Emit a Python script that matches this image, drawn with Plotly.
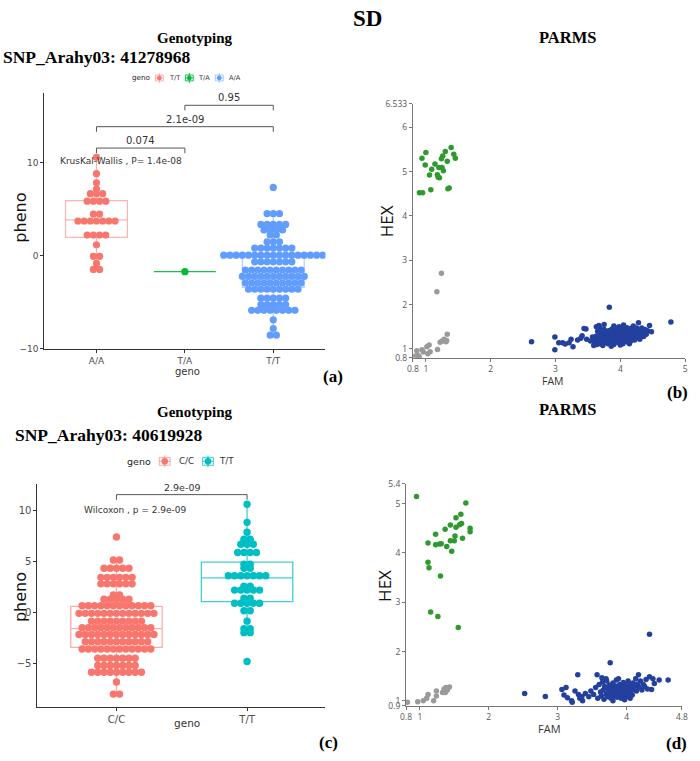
import plotly.graph_objects as go

W, H = 700, 761

# ---------------- Panel (a) : SNP_Arahy03: 41278968 ----------------
a_categories = ["A/A", "T/A", "T/T"]
a_aa_levels = [10.6, 8.85, 7.87, 7.2, 6.7, 5.89, 4.5, 3.76, 2.25, 1.2, -0.04, -0.8, -1.45]
a_aa_counts = [1, 1, 1, 1, 3, 4, 2, 7, 4, 1, 2, 1, 2]
a_ta_levels = [-1.69]
a_ta_counts = [1]
a_tt_levels = [7.37, 4.55, 3.39, 2.79, 2.26, 1.52, 0.85, 0.08, -0.63, -1.51, -2.2,
               -2.9, -3.58, -4.54, -5.22, -5.85, -6.87, -7.8, -8.52]
a_tt_counts = [1, 3, 5, 4, 2, 3, 7, 17, 7, 10, 11, 10, 9, 5, 5, 8, 1, 1, 2]
# box statistics: q1, median, q3, lower whisker, upper whisker
a_box_q1 = [2.0, -1.69, -3.39]
a_box_med = [3.88, -1.69, -1.45]
a_box_q3 = [5.96, -1.69, 0.0]
a_box_lo = [-1.45, -1.69, -8.52]
a_box_hi = [10.6, -1.69, 4.55]
a_colors = ["#F8766D", "#00BA38", "#619CFF"]
a_box_lines = ["rgba(248,118,109,0.55)", "rgba(0,186,56,0.9)", "rgba(97,156,255,0.5)"]
a_tests = [("0.074", 1, 2, 11.6), ("2.1e-09", 1, 3, 13.9), ("0.95", 2, 3, 16.2)]
a_global_test = "KrusKal-Wallis , P= 1.4e-08"
a_legend_labels = ["T/T", "T/A", "A/A"]

# ---------------- Panel (c) : SNP_Arahy03: 40619928 ----------------
c_categories = ["C/C", "T/T"]
c_cc_levels = [7.42, 5.16, 4.35, 3.45, 2.81, 1.71, 1.29, 0.65, -0.10, -0.87, -1.52,
               -2.19, -2.90, -3.61, -4.52, -5.23, -5.90, -6.87, -8.06]
c_cc_counts = [1, 2, 5, 6, 6, 2, 5, 12, 13, 9, 12, 13, 11, 12, 7, 7, 9, 1, 2]
c_tt_levels = [10.65, 8.87, 7.9, 7.2, 6.71, 5.90, 4.74, 4.35, 3.61, 2.58, 2.19, 1.39,
               0.90, 0.16, -0.87, -1.61, -2.0, -4.84]
c_tt_counts = [1, 1, 1, 2, 3, 4, 2, 2, 7, 2, 5, 2, 5, 2, 1, 2, 2, 1]
c_box_q1 = [-3.45, 1.06]
c_box_med = [-1.61, 3.39]
c_box_q3 = [0.58, 4.94]
c_box_lo = [-8.06, -2.0]
c_box_hi = [5.16, 10.65]
c_colors = ["#F8766D", "#00BFC4"]
c_box_lines = ["rgba(248,118,109,0.6)", "rgba(0,191,196,0.75)"]
c_tests = [("2.9e-09", 1, 2, 11.6)]
c_global_test = "Wilcoxon , p = 2.9e-09"
c_legend_labels = ["C/C", "T/T"]

# ---------------- Panel (b) : PARMS cluster plot ----------------
b_green_fam = [0.94, 1.0, 0.99, 0.90, 0.95, 1.056, 1.09, 1.076, 1.14, 1.177, 1.20, 1.19,
               1.21, 1.24, 1.26, 1.25, 1.27, 1.30, 1.33, 1.34, 1.36, 1.39, 1.43, 1.455]
b_green_hex = [5.30, 5.43, 5.15, 4.52, 4.52, 4.92, 5.05, 4.59, 5.17, 4.93, 5.09, 4.87,
               4.86, 5.29, 5.35, 5.09, 5.02, 5.45, 5.23, 4.61, 4.63, 5.54, 5.39, 5.30]
b_grey_fam = [1.24, 1.17, 1.18, 1.22, 1.25, 1.28, 1.31, 1.33, 1.32, 0.86, 0.88, 0.94,
              0.96, 1.015, 1.05, 1.066, 1.03, 0.90, 0.84]
b_grey_hex = [2.71, 2.29, 0.99, 1.15, 1.18, 1.22, 1.16, 1.33, 1.19, 0.96, 0.85, 0.98,
              0.93, 1.05, 1.09, 0.94, 0.89, 0.82, 0.84]
b_blue_fam = [2.63, 2.99, 2.99, 3.05, 3.11, 3.15, 3.21, 3.24, 3.27, 3.34, 3.39, 3.41,
              3.44, 3.47, 3.48, 3.54, 3.57, 3.59, 3.62, 3.63, 3.67, 3.70, 3.72,
              3.60, 3.62, 3.64, 3.65, 3.66, 3.68, 3.69, 3.70, 3.71, 3.72, 3.73, 3.74,
              3.75, 3.76, 3.77, 3.78, 3.79, 3.80, 3.81, 3.82, 3.83, 3.83, 3.84, 3.85,
              3.86, 3.87, 3.88, 3.88, 3.89, 3.90, 3.90, 3.91, 3.92, 3.93, 3.94, 3.94,
              3.95, 3.96, 3.97, 3.97, 3.98, 3.99, 4.00, 4.00, 4.01, 4.02, 4.03, 4.03,
              4.04, 4.05, 4.06, 4.06, 4.07, 4.08, 4.08, 4.09, 4.10, 4.10, 4.11, 4.12,
              4.12, 4.13, 4.14, 4.15, 4.15, 4.16, 4.17, 4.18, 4.19, 4.20, 4.21, 4.22,
              4.23, 4.24, 4.25, 4.26, 4.27, 4.28, 4.29, 4.30, 4.31, 4.32, 4.33, 4.35,
              4.36, 4.38, 4.40, 4.42, 4.45, 4.48, 4.78, 3.98, 4.05, 3.75, 4.20, 3.66,
              3.86, 4.00, 4.14, 3.92]
b_blue_hex = [1.16, 1.27, 0.98, 1.14, 1.14, 1.11, 1.14, 1.22, 1.05, 1.20, 1.24, 1.30,
              1.46, 1.45, 1.22, 1.18, 1.27, 1.08, 1.20, 1.50, 1.53, 1.36, 1.30,
              1.15, 1.28, 1.10, 1.40, 1.22, 1.48, 1.12, 1.25, 1.38, 1.18, 1.08, 1.33,
              1.44, 1.21, 1.29, 1.15, 1.37, 1.26, 1.12, 1.41, 1.94, 1.30, 1.20, 1.35,
              1.24, 1.45, 1.17, 1.32, 1.27, 1.52, 1.10, 1.38, 1.22, 1.30, 1.42, 1.18,
              1.26, 1.34, 1.14, 1.40, 1.29, 1.22, 1.36, 1.46, 1.19, 1.31, 1.25, 1.41,
              1.12, 1.35, 1.28, 1.44, 1.20, 1.38, 1.32, 1.24, 1.48, 1.16, 1.36, 1.29,
              1.42, 1.22, 1.34, 1.46, 1.27, 1.18, 1.39, 1.31, 1.24, 1.43, 1.35, 1.20,
              1.30, 1.40, 1.47, 1.26, 1.34, 1.59, 1.42, 1.22, 1.37, 1.30, 1.47, 1.39,
              1.28, 1.44, 1.33, 1.41, 1.53, 1.39, 1.61, 1.50, 1.54, 1.55, 1.52, 1.33,
              1.06, 1.09, 1.12, 1.47]

# ---------------- Panel (d) : PARMS cluster plot ----------------
d_green_fam = [0.952, 1.667, 1.119, 1.229, 1.367, 1.443, 1.524, 1.595, 1.605, 1.576,
               1.524, 1.51, 1.619, 1.729, 1.729, 1.443, 1.50, 1.39, 1.286, 1.31, 1.229,
               1.462, 1.119, 1.133, 1.30, 1.157, 1.262, 1.557]
d_green_hex = [5.147, 5.013, 4.20, 4.38, 4.48, 4.567, 4.713, 4.787, 4.60, 4.573, 4.52,
               4.347, 4.30, 4.50, 4.433, 4.247, 4.247, 4.133, 4.18, 4.187, 4.167, 4.033,
               3.813, 3.70, 3.533, 2.80, 2.713, 2.487]
d_grey_fam = [0.82, 0.97, 1.05, 1.10, 1.12, 1.20, 1.24, 1.24, 1.33, 1.35, 1.38, 1.43,
              1.37, 1.40, 1.36]
d_grey_hex = [0.97, 0.98, 1.00, 1.05, 1.13, 1.00, 1.20, 1.10, 1.17, 1.23, 1.27, 1.28,
              1.17, 1.22, 1.25]
d_blue_fam = [2.52, 2.82, 3.06, 3.09, 3.12, 3.14, 3.20, 3.21, 3.25, 3.29, 3.30, 3.32,
              3.35, 3.36, 3.40, 3.45, 3.48, 3.52, 3.55, 3.57, 3.58, 3.60, 3.62, 3.63,
              3.65, 3.66, 3.67, 3.68, 3.70, 3.71, 3.72, 3.73, 3.74, 3.75, 3.76, 3.76,
              3.77, 3.78, 3.79, 3.80, 3.81, 3.82, 3.83, 3.84, 3.85, 3.86, 3.87, 3.88,
              3.89, 3.90, 3.91, 3.92, 3.93, 3.94, 3.95, 3.96, 3.97, 3.98, 3.99, 4.00,
              4.01, 4.02, 4.03, 4.04, 4.05, 4.06, 4.07, 4.08, 4.09, 4.10, 4.12, 4.13,
              4.14, 4.16, 4.17, 4.18, 4.20, 4.22, 4.24, 4.26, 4.28, 4.30, 4.33, 4.33,
              4.36, 4.38, 4.40, 4.47, 4.60, 3.70, 3.64, 3.88, 3.93, 4.05, 3.80, 3.97]
d_blue_hex = [1.15, 1.09, 1.23, 1.12, 1.27, 1.06, 1.00, 0.97, 1.20, 1.53, 1.13, 1.05,
              1.09, 1.00, 1.15, 1.08, 1.20, 1.13, 1.27, 1.53, 1.05, 1.33, 1.18, 1.10,
              1.38, 1.22, 1.03, 1.29, 1.14, 1.40, 1.08, 1.25, 1.18, 1.32, 1.77, 1.12,
              1.05, 1.27, 1.20, 1.36, 1.10, 1.23, 1.15, 1.30, 1.42, 1.07, 1.19, 1.26,
              1.13, 1.33, 1.21, 1.05, 1.28, 1.16, 1.37, 1.11, 1.24, 1.19, 1.31, 1.09,
              1.26, 1.40, 1.15, 1.22, 1.33, 1.18, 1.28, 1.12, 1.36, 1.24, 1.30, 1.45,
              1.20, 1.34, 1.53, 1.27, 1.40, 1.22, 1.33, 1.29, 1.43, 1.24, 1.49, 2.35,
              1.23, 1.45, 1.35, 1.42, 1.42, 1.45, 1.47, 1.45, 1.10, 1.05, 1.00, 1.02]

GREEN, GREY, BLUE = "#2E9A2E", "#9A9A9A", "#23409E"

# ---------------- helpers ----------------
def px(x):
    return x / W


def py(y):
    return 1 - y / H


def stack(levels, counts, center, dx):
    xs, ys = [], []
    for v, n in zip(levels, counts):
        for i in range(n):
            xs.append(center + (i - (n - 1) / 2) * dx)
            ys.append(v)
    return xs, ys


fig = go.Figure()
shapes, annos = [], []
GG = "DejaVu Sans"
SANS = "Open Sans"
SERIF = "Liberation Serif"

# ---- panel a boxes and dots
for i, cat in enumerate(a_categories):
    fig.add_trace(go.Box(x=[i + 1], q1=[a_box_q1[i]], median=[a_box_med[i]], q3=[a_box_q3[i]],
                         lowerfence=[a_box_lo[i]], upperfence=[a_box_hi[i]], width=0.7,
                         whiskerwidth=0, fillcolor="rgba(0,0,0,0)",
                         line=dict(color=a_box_lines[i], width=1.2), boxpoints=False,
                         xaxis="x", yaxis="y", showlegend=False, hoverinfo="skip"))
for i, (lv, ct) in enumerate([(a_aa_levels, a_aa_counts), (a_ta_levels, a_ta_counts),
                               (a_tt_levels, a_tt_counts)]):
    xs, ys = stack(lv, ct, i + 1, 0.07)
    fig.add_trace(go.Scatter(x=xs, y=ys, mode="markers", xaxis="x", yaxis="y",
                             marker=dict(color=a_colors[i], size=7.2, line=dict(width=0)),
                             showlegend=False))

# ---- panel c boxes and dots
for i, cat in enumerate(c_categories):
    fig.add_trace(go.Box(x=[i + 1], q1=[c_box_q1[i]], median=[c_box_med[i]], q3=[c_box_q3[i]],
                         lowerfence=[c_box_lo[i]], upperfence=[c_box_hi[i]], width=0.7,
                         whiskerwidth=0, fillcolor="rgba(0,0,0,0)",
                         line=dict(color=c_box_lines[i], width=1.3), boxpoints=False,
                         xaxis="x3", yaxis="y3", showlegend=False, hoverinfo="skip"))
for i, (lv, ct) in enumerate([(c_cc_levels, c_cc_counts), (c_tt_levels, c_tt_counts)]):
    xs, ys = stack(lv, ct, i + 1, 0.0478)
    fig.add_trace(go.Scatter(x=xs, y=ys, mode="markers", xaxis="x3", yaxis="y3",
                             marker=dict(color=c_colors[i], size=7.4, line=dict(width=0)),
                             showlegend=False))

# ---- panels b and d scatter
for (fx, hx, col), ax in [((b_green_fam, b_green_hex, GREEN), "2"), ((b_grey_fam, b_grey_hex, GREY), "2"),
                          ((b_blue_fam, b_blue_hex, BLUE), "2"), ((d_green_fam, d_green_hex, GREEN), "4"),
                          ((d_grey_fam, d_grey_hex, GREY), "4"), ((d_blue_fam, d_blue_hex, BLUE), "4")]:
    fig.add_trace(go.Scatter(x=fx, y=hx, mode="markers", xaxis="x" + ax, yaxis="y" + ax,
                             marker=dict(color=col, size=5.5, line=dict(width=0)),
                             showlegend=False))

# ---- significance brackets
def bracket(xr, yr, x1, x2, y, drop, label, fsize):
    shapes.append(dict(type="path", xref=xr, yref=yr,
                       path=f"M {x1},{y - drop} L {x1},{y} L {x2},{y} L {x2},{y - drop}",
                       line=dict(color="#555555", width=1)))
    annos.append(dict(xref=xr, yref=yr, x=(x1 + x2) / 2, y=y, text=label, showarrow=False,
                      yanchor="bottom", yshift=0, font=dict(family=GG, size=fsize, color="#333")))


for lab, g1, g2, yv in a_tests:
    bracket("x", "y", g1, g2, yv, 0.55, lab, 10)
for lab, g1, g2, yv in c_tests:
    bracket("x3", "y3", g1, g2, yv, 0.5, lab, 9.5)

annos.append(dict(xref="x", yref="y", x=1.28, y=10.2, text=a_global_test, showarrow=False,
                  font=dict(family=GG, size=9, color="#333")))
annos.append(dict(xref="x3", yref="y3", x=1.146, y=10.1, text=c_global_test, showarrow=False,
                  font=dict(family=GG, size=9, color="#333")))


# ---- text helpers
def text(x, y, s, size, family, bold=False, color="#000", anchor="center", angle=0):
    annos.append(dict(xref="paper", yref="paper", x=px(x), y=py(y), text=f"<b>{s}</b>" if bold else s,
                      showarrow=False, xanchor=anchor, yanchor="middle", textangle=angle,
                      font=dict(family=family, size=size, color=color)))


text(351, 13, "SD", 23, SERIF, True, anchor="left")
text(192, 32, "Genotyping", 15, SERIF, True)
text(-5, 52, "SNP_Arahy03: 41278968", 17.5, SERIF, True, anchor="left")
text(571, 32, "PARMS", 16.5, SERIF, True)
text(192, 412, "Genotyping", 15, SERIF, True)
text(7, 435, "SNP_Arahy03: 40619928", 17.5, SERIF, True, anchor="left")
text(571, 409, "PARMS", 16.5, SERIF, True)
text(333, 376, "(a)", 17, SERIF, True)
text(683, 392, "(b)", 17, SERIF, True)
text(328, 747, "(c)", 17, SERIF, True)
text(682, 748, "(d)", 17, SERIF, True)

# axis titles
text(15, 215, "pheno", 16, GG, color="#111", angle=-90)
text(185, 371, "geno", 10, GG, color="#333")
text(15, 600, "pheno", 16, GG, color="#111", angle=-90)
text(184, 728, "geno", 10.5, GG, color="#333")
text(388, 218, "HEX", 17, SANS, color="#111", angle=-90)
text(557, 380, "FAM", 10.5, SANS, color="#333")
text(385, 588, "HEX", 17, SANS, color="#111", angle=-90)
text(553, 733, "FAM", 11, SANS, color="#333")


# ---- manual ggplot-style legends
def legend(y, title_x, items, fsize, kw, kh):
    text(title_x, y, "geno", fsize, GG, color="#222")
    for kx, tx, lab, col, boxcol in items:
        shapes.append(dict(type="rect", xref="paper", yref="paper", x0=px(kx - kw / 2), x1=px(kx + kw / 2),
                           y0=py(y + kh / 2), y1=py(y - kh / 2), line=dict(color=boxcol, width=1),
                           fillcolor="rgba(0,0,0,0)"))
        shapes.append(dict(type="line", xref="paper", yref="paper", x0=px(kx), x1=px(kx),
                           y0=py(y + kh / 2 + 2), y1=py(y - kh / 2 - 2), line=dict(color=boxcol, width=1)))
        shapes.append(dict(type="line", xref="paper", yref="paper", x0=px(kx - kw / 2), x1=px(kx + kw / 2),
                           y0=py(y), y1=py(y), line=dict(color=boxcol, width=1)))
        r = kh / 2 - 0.6
        shapes.append(dict(type="circle", xref="paper", yref="paper", x0=px(kx - r), x1=px(kx + r),
                           y0=py(y + r), y1=py(y - r), line=dict(width=0), fillcolor=col))
        text(tx, y, lab, fsize * 0.92, GG, color="#333")


legend(73, 137, [(156, 171.5, a_legend_labels[0], a_colors[0], a_box_lines[0]),
                 (186.5, 201.5, a_legend_labels[1], a_colors[1], a_box_lines[1]),
                 (217, 232.5, a_legend_labels[2], a_colors[2], a_box_lines[2])], 7.2, 8, 6)
legend(462, 135, [(161.5, 184, c_legend_labels[0], c_colors[0], c_box_lines[0]),
                  (205.5, 224, c_legend_labels[1], c_colors[1], c_box_lines[1])], 9.5, 11, 8)

# ---- axes
gg_axis = dict(showline=True, linecolor="#333333", linewidth=1, ticks="outside", ticklen=3,
               tickcolor="#333333", showgrid=False, zeroline=False,
               tickfont=dict(family=GG, size=9, color="#4d4d4d"))
pm_axis = dict(showline=True, linecolor="#777777", linewidth=1, ticks="outside", ticklen=3,
               tickcolor="#777777", showgrid=False, zeroline=False,
               tickfont=dict(family=SANS, size=8.5, color="#555555"))

fig.update_layout(
    width=W, height=H, margin=dict(l=0, r=0, t=0, b=0), paper_bgcolor="white",
    plot_bgcolor="white", showlegend=False,
    xaxis=dict(domain=[px(39), px(325)], range=[0.41, 3.59], anchor="y",
               tickvals=[1, 2, 3], ticktext=a_categories, **gg_axis),
    yaxis=dict(domain=[py(348), py(88)], range=[-10, 17.55], anchor="x",
               tickvals=[-10, 0, 10], **gg_axis),
    xaxis3=dict(domain=[px(32), px(325)], range=[0.395, 2.6], anchor="y3",
                tickvals=[1, 2], ticktext=c_categories,
                **{**gg_axis, "tickfont": dict(family=GG, size=10, color="#4d4d4d")}),
    yaxis3=dict(domain=[py(711.7), py(485)], range=[-9.37, 12.65], anchor="x3",
                tickvals=[-5, 0, 5, 10],
                **{**gg_axis, "tickfont": dict(family=GG, size=10, color="#4d4d4d")}),
    xaxis2=dict(domain=[px(414), px(691)], range=[0.8, 5], anchor="y2",
                tickvals=[0.8, 1, 2, 3, 4, 5], ticktext=["0.8", "1", "2", "3", "4", "5"], **pm_axis),
    yaxis2=dict(domain=[py(357), py(99)], range=[0.8, 6.533], anchor="x2",
                tickvals=[0.8, 1, 2, 3, 4, 5, 6, 6.533],
                ticktext=["0.8", "1", "2", "3", "4", "5", "6", "6.533"], **pm_axis),
    xaxis4=dict(domain=[px(407), px(687.7)], range=[0.8, 4.8], anchor="y4",
                tickvals=[0.8, 1, 2, 3, 4, 4.8], ticktext=["0.8", "1", "2", "3", "4", "4.8"], **pm_axis),
    yaxis4=dict(domain=[py(710), py(485)], range=[0.9, 5.4], anchor="x4",
                tickvals=[0.9, 1, 2, 3, 4, 5, 5.4],
                ticktext=["0.9", "1", "2", "3", "4", "5", "5.4"], **pm_axis),
    shapes=shapes, annotations=annos,
)

fig.write_html("out.html")
